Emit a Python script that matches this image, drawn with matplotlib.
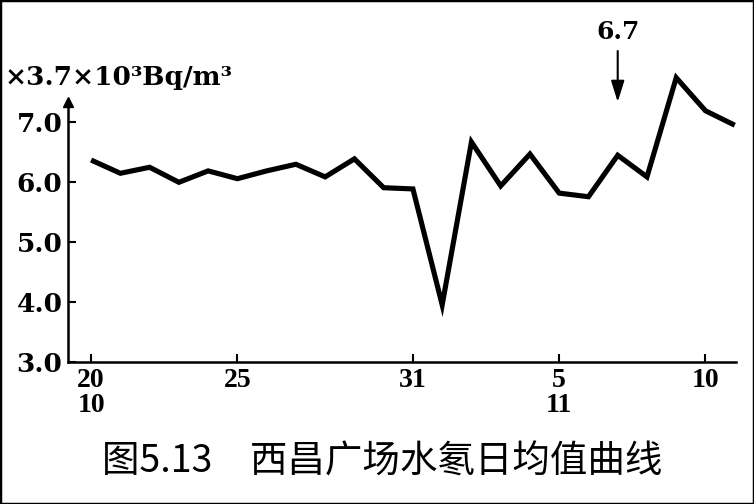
#!/usr/bin/env python3
"""
plot.py

Daily mean radon-in-water curve at Xichang square (fig. 5.13),
Oct 20 - Nov 11, in units of 3.7x10^3 Bq/m^3.
"""

import matplotlib
matplotlib.use("Agg")

import matplotlib.pyplot as plt
from matplotlib.patches import Rectangle

# one value per day, Oct 20 ... Nov 11
DATES = ["10-20", "10-21", "10-22", "10-23", "10-24", "10-25", "10-26",
         "10-27", "10-28", "10-29", "10-30", "10-31", "11-01", "11-02",
         "11-03", "11-04", "11-05", "11-06", "11-07", "11-08", "11-09",
         "11-10", "11-11"]
RN_VALUES = [6.36, 6.14, 6.24, 5.99, 6.18, 6.05, 6.18, 6.29, 6.08, 6.38,
             5.90, 5.88, 3.95, 6.66, 5.93, 6.46, 5.81, 5.75, 6.44, 6.08,
             7.73, 7.18, 6.94]

TICK_DATES = ["10-20", "10-25", "10-31", "11-05", "11-10"]
TICK_LABELS = ["20\n10", "25", "31", "5\n11", "10"]
Y_TICKS = [3.0, 4.0, 5.0, 6.0, 7.0]

MARK_DATE = "11-07"
MARK_TEXT = "6.7"
UNIT_TEXT = "×3.7×10³Bq/m³"
CAPTION = "图5.13　西昌广场水氡日均值曲线"


def main():
    fig = plt.figure(figsize=(7.54, 5.04), dpi=100)
    ax = fig.add_axes([0.0902, 0.2817, 0.8858, 0.5963])

    x = list(range(len(DATES)))
    ax.plot(x, RN_VALUES, color="black", lw=3.7, solid_joinstyle="miter",
            solid_capstyle="butt")

    ax.set_xlim(-0.79, 22.04)
    ax.set_ylim(3.0, 8.0)

    # axes: only left + bottom, ticks pointing inward
    for side in ("top", "right"):
        ax.spines[side].set_visible(False)
    ax.spines["left"].set_linewidth(1.8)
    ax.spines["bottom"].set_linewidth(1.8)
    ax.spines["left"].set_bounds(3.0, 7.3)
    ax.plot([-0.79], [7.33], marker="^", color="black", markersize=7,
            clip_on=False)

    ax.set_xticks([DATES.index(d) for d in TICK_DATES])
    ax.set_xticklabels(TICK_LABELS, fontfamily="Liberation Serif",
                       fontweight="bold", fontsize=20, linespacing=1.0)
    ax.set_yticks(Y_TICKS)
    ax.set_yticklabels([f"{v:.1f}" for v in Y_TICKS],
                       fontfamily="DejaVu Serif", fontweight="bold",
                       fontsize=19)
    ax.tick_params(axis="both", direction="in", length=6, width=1.5,
                   pad=4)

    # marker arrow "6.7"
    mx = DATES.index(MARK_DATE)
    ax.annotate("", xy=(mx, 7.28), xytext=(mx, 8.22),
                arrowprops=dict(arrowstyle="-|>,head_length=0.8,head_width=0.25",
                                lw=1.5, color="black", mutation_scale=16),
                annotation_clip=False)
    ax.text(mx, 8.49, MARK_TEXT, ha="center", va="center",
            fontfamily="DejaVu Serif", fontweight="bold", fontsize=18,
            clip_on=False)

    # unit label above the y axis
    fig.text(5 / 754, 1 - 78 / 504, UNIT_TEXT, ha="left", va="center",
             fontfamily="DejaVu Serif", fontweight="bold", fontsize=19)

    # caption
    fig.text(0.507, 1 - 462 / 504, CAPTION, ha="center", va="center",
             family=["Noto Sans CJK SC", "DejaVu Sans"], fontsize=27)

    # frame round the whole picture
    fig.patches.append(Rectangle((0, 0), 1, 1, transform=fig.transFigure,
                                 fill=False, lw=2.5, edgecolor="black"))

    fig.savefig("out.png", dpi=100)
    plt.close(fig)


if __name__ == "__main__":
    main()
